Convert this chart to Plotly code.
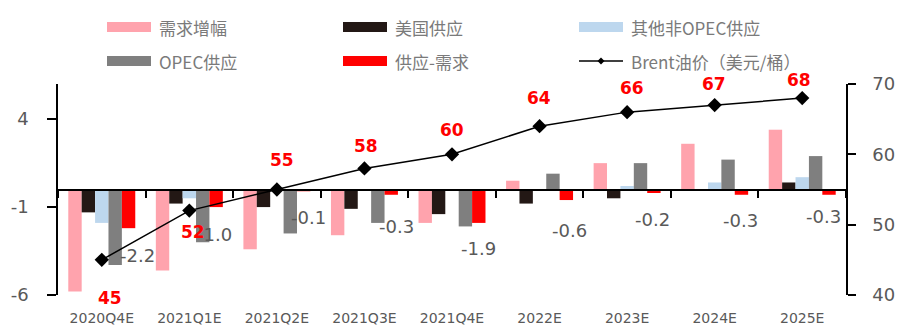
import plotly.graph_objects as go

# ---- data -------------------------------------------------------------
categories = ["2020Q4E", "2021Q1E", "2021Q2E", "2021Q3E", "2021Q4E",
              "2022E", "2023E", "2024E", "2025E"]
demand_growth = [-5.8, -4.6, -3.4, -2.6, -1.9, 0.5, 1.5, 2.6, 3.4]      # 需求增幅
us_supply = [-1.3, -0.8, -1.0, -1.1, -1.4, -0.8, -0.5, 0.0, 0.4]        # 美国供应
other_non_opec = [-1.9, -0.5, 0.0, 0.0, 0.0, 0.0, 0.2, 0.4, 0.7]        # 其他非OPEC供应
opec_supply = [-4.3, -3.0, -2.5, -1.9, -2.1, 0.9, 1.5, 1.7, 1.9]        # OPEC供应
balance = [-2.2, -1.0, -0.1, -0.3, -1.9, -0.6, -0.2, -0.3, -0.3]        # 供应-需求
brent = [45, 52, 55, 58, 60, 64, 66, 67, 68]                            # Brent油价

left_tick_vals = [-6, -1, 4]
left_tick_text = ["-6", "-1", "4"]
right_tick_vals = [40, 50, 60, 70]
right_tick_text = ["40", "50", "60", "70"]

# ---- styling ------------------------------------------------------------
C_DEMAND = "#FFA3AD"
C_US = "#231815"
C_OTHER = "#BDD7EE"
C_OPEC = "#7F7F7F"
C_BAL = "#FF0000"
AXIS_TXT = "#595959"
LEG_TXT = "#7A7A7A"
NUM_FONT = "DejaVu Sans"
CJK_FONT = "Noto Sans CJK SC"

W, H = 908, 336
ML, MR, MT, MB = 58, 62, 84, 41
BARGAP = 0.235
N_SERIES = 5

# pixel nudges for the value labels (dx right, dy down)
brent_label_shift = [(8, 38), (4, 21), (5, -30), (2, -22), (0, -24),
                     (-1, -28), (5, -24), (-1, -21), (-3, -18)]
balance_label_shift = [(9, 27), (-2, 27), (5, 26), (5, 32), (0, 26),
                       (3, 30), (-1, 26), (-1, 26), (-6, 22)]

fig = go.Figure()

series = [
    ("需求增幅", demand_growth, C_DEMAND),
    ("美国供应", us_supply, C_US),
    ("其他非OPEC供应", other_non_opec, C_OTHER),
    ("OPEC供应", opec_supply, C_OPEC),
    ("供应-需求", balance, C_BAL),
]
for name, vals, col in series:
    fig.add_trace(go.Bar(x=categories, y=vals, name=name, marker_color=col,
                         marker_line_width=0, showlegend=False))

fig.add_trace(go.Scatter(
    x=categories, y=brent, yaxis="y2", name="Brent油价（美元/桶）",
    mode="lines+markers", line=dict(color="black", width=1.5),
    marker=dict(symbol="diamond", size=11, color="black"), showlegend=False))

# helper trace so the zero-line axis knows the categories
fig.add_trace(go.Scatter(x=categories, y=[0] * len(categories), xaxis="x2",
                         mode="markers", marker=dict(opacity=0),
                         hoverinfo="skip", showlegend=False))

annotations = []

# labels for the supply-demand balance bars
bar_w = (1 - BARGAP) / N_SERIES
red_offset = 2 * bar_w
for i, v in enumerate(balance):
    dx, dy = balance_label_shift[i]
    annotations.append(dict(
        x=i + red_offset, y=v, xref="x", yref="y", text=f"{v:.1f}",
        showarrow=False, xshift=dx, yshift=-dy,
        font=dict(family=NUM_FONT, size=18, color=AXIS_TXT)))

# Brent price labels
for i, v in enumerate(brent):
    dx, dy = brent_label_shift[i]
    annotations.append(dict(
        x=categories[i], y=v, xref="x", yref="y2", text=f"<b>{v}</b>",
        showarrow=False, xshift=dx, yshift=-dy,
        font=dict(family=NUM_FONT, size=17, color="#FF0000")))

# ---- legend drawn above the plot --------------------------------------
PW = W - ML - MR
PH = H - MT - MB


def px_x(px):
    return (px - ML) / PW


def px_y(py):
    return (H - MB - py) / PH


legend_cols = [107, 343, 579]
legend_rows = [27, 61]
SW_W, SW_H = 44, 10
legend_items = [
    ("需求增幅", C_DEMAND, "bar", 0, 0),
    ("美国供应", C_US, "bar", 1, 0),
    ("其他非OPEC供应", C_OTHER, "bar", 2, 0),
    ("OPEC供应", C_OPEC, "bar", 0, 1),
    ("供应-需求", C_BAL, "bar", 1, 1),
    ("Brent油价（美元/桶）", "black", "line", 2, 1),
]
shapes = []
for label, col, kind, c, r in legend_items:
    x0 = legend_cols[c]
    yc = legend_rows[r]
    if kind == "bar":
        shapes.append(dict(type="rect", xref="paper", yref="paper",
                           x0=px_x(x0), x1=px_x(x0 + SW_W),
                           y0=px_y(yc + SW_H / 2), y1=px_y(yc - SW_H / 2),
                           fillcolor=col, line_width=0))
    else:
        shapes.append(dict(type="line", xref="paper", yref="paper",
                           x0=px_x(x0), x1=px_x(x0 + SW_W),
                           y0=px_y(yc), y1=px_y(yc),
                           line=dict(color=col, width=1.5)))
        xm = x0 + SW_W / 2
        d = 3.5
        path = (f"M{px_x(xm - d)},{px_y(yc)} L{px_x(xm)},{px_y(yc - d)} "
                f"L{px_x(xm + d)},{px_y(yc)} L{px_x(xm)},{px_y(yc + d)} Z")
        shapes.append(dict(type="path", xref="paper", yref="paper",
                           path=path, fillcolor=col, line_width=0))
    annotations.append(dict(
        x=px_x(x0 + SW_W + 6), y=px_y(yc), xref="paper", yref="paper",
        xanchor="left", yanchor="middle", text=label, showarrow=False,
        font=dict(family=CJK_FONT, size=17, color=LEG_TXT)))

fig.update_layout(
    width=W, height=H,
    margin=dict(l=ML, r=MR, t=MT, b=MB, pad=0, autoexpand=False),
    paper_bgcolor="white", plot_bgcolor="white",
    barmode="group", bargap=BARGAP, bargroupgap=0,
    showlegend=False,
    xaxis=dict(type="category", categoryorder="array", categoryarray=categories,
               range=[-0.5, len(categories) - 0.5], showline=False, ticks="",
               showgrid=False, zeroline=False, ticklabelstandoff=13,
               automargin=False,
               tickfont=dict(family=NUM_FONT, size=14, color=AXIS_TXT)),
    xaxis2=dict(type="category", categoryorder="array", categoryarray=categories,
                overlaying="x", anchor="free", position=0.5,
                range=[-0.5, len(categories) - 0.5], automargin=False,
                showline=True, linecolor="black", linewidth=1.5,
                ticks="outside", tickson="boundaries", ticklen=8,
                tickwidth=1.5, tickcolor="black", showticklabels=False,
                showgrid=False, zeroline=False),
    yaxis=dict(range=[-6, 6], tickmode="array", tickvals=left_tick_vals,
               ticktext=left_tick_text, showline=True, automargin=False,
               linecolor="black", linewidth=1.5, ticks="outside", ticklen=9,
               tickwidth=1.5, tickcolor="black", showgrid=False, zeroline=False,
               ticklabelstandoff=15,
               tickfont=dict(family=NUM_FONT, size=18, color=AXIS_TXT)),
    yaxis2=dict(range=[40, 70], tickmode="array", tickvals=right_tick_vals,
                ticktext=right_tick_text, overlaying="y", automargin=False,
                side="right", anchor="x", showline=True, linecolor="black",
                linewidth=1.5, ticks="outside", ticklen=8, tickwidth=1.5,
                tickcolor="black", showgrid=False, zeroline=False,
                ticklabelstandoff=13,
                tickfont=dict(family=NUM_FONT, size=18, color=AXIS_TXT)),
    annotations=annotations,
    shapes=shapes,
)

fig.write_html("out.html")
